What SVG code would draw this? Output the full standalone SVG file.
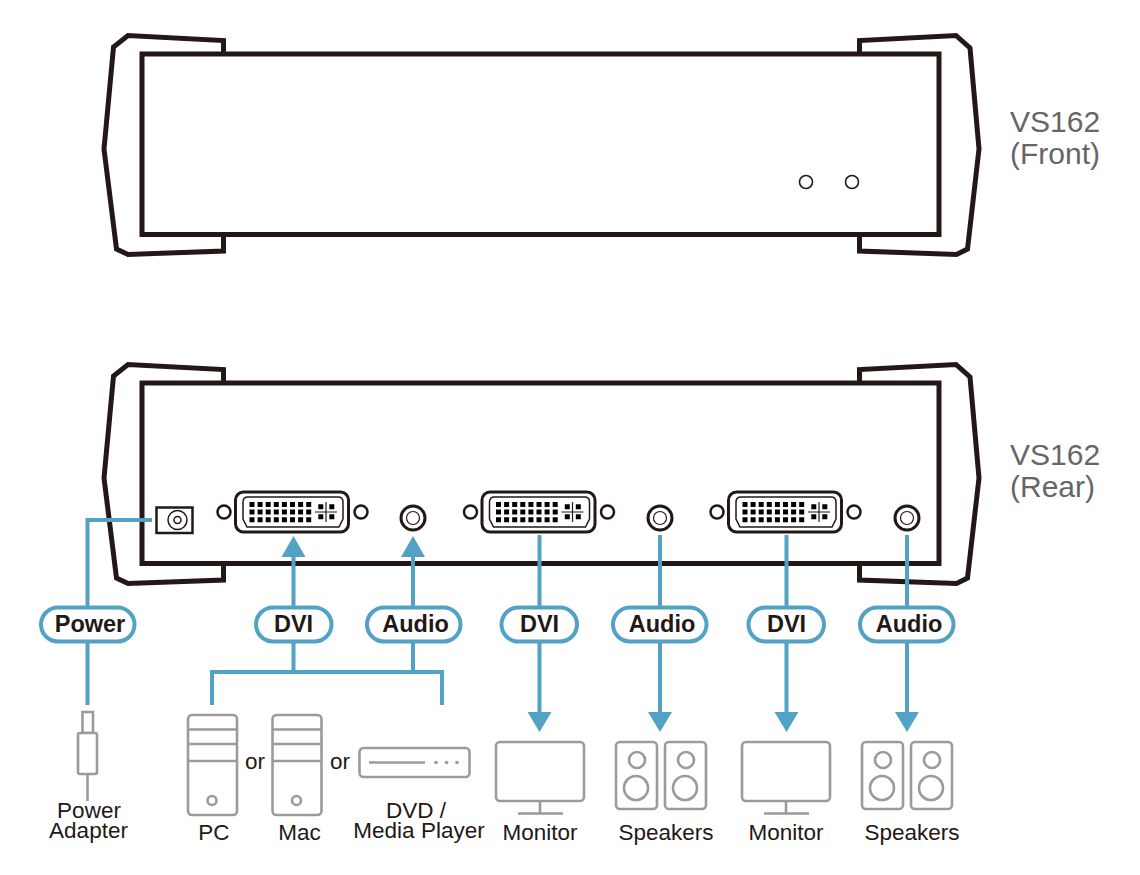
<svg xmlns="http://www.w3.org/2000/svg" width="1140" height="875" viewBox="0 0 1140 875">
<style>
text{font-family:"Liberation Sans",Arial,sans-serif;fill:#231815}
.lbl{font-size:22.5px;text-anchor:middle}
.pilltxt{font-size:23.5px;font-weight:bold;text-anchor:middle}
.model{font-size:30px;fill:#666}
.body{fill:#fff;stroke:#231815;stroke-width:5;stroke-linejoin:miter}
.wing{fill:#fff;stroke:#231815;stroke-width:5;stroke-linejoin:miter}
.dev{fill:#fff;stroke:#9b9b9b;stroke-width:2.6}
.devl{fill:none;stroke:#9b9b9b;stroke-width:2.6}
.wire{fill:none;stroke:#52a2c5;stroke-width:4}
.pill{fill:#fff;stroke:#52a2c5;stroke-width:4}
.head{fill:#52a2c5}
</style>
<defs>
<g id="chassis">
<path class="wing" d="M223.500 68V40.500L128 35.500L113.500 47L104 149L116.500 249L128 254.500L223.500 251V230Z"/>
<path class="wing" d="M859.500 68V40.500L956 35.500L970 48L979 149L967.500 249L956.500 254.500L859.500 251V230Z"/>
<rect class="body" x="142" y="54" width="797" height="180.500"/>
</g>
<g id="dvi">
<rect x="235.500" y="492" width="113" height="40" rx="8" fill="#fff" stroke="#231815" stroke-width="3"/>
<path d="M248 497H338Q343 497 343 502V519L339 527H247L243 519V502Q243 497 248 497Z" fill="#fff" stroke="#231815" stroke-width="1.500"/>
<path fill="#000" d="M249.500 502h5v5h-5zM257.600 502h5v5h-5zM265.700 502h5v5h-5zM273.800 502h5v5h-5zM281.900 502h5v5h-5zM290 502h5v5h-5zM298.100 502h5v5h-5zM306.200 502h5v5h-5zM249.500 509.500h5v5h-5zM257.600 509.500h5v5h-5zM265.700 509.500h5v5h-5zM273.800 509.500h5v5h-5zM281.900 509.500h5v5h-5zM290 509.500h5v5h-5zM298.100 509.500h5v5h-5zM306.200 509.500h5v5h-5zM249.500 517.300h5v5h-5zM257.600 517.300h5v5h-5zM265.700 517.300h5v5h-5zM273.800 517.300h5v5h-5zM281.900 517.300h5v5h-5zM290 517.300h5v5h-5zM298.100 517.300h5v5h-5zM306.200 517.300h5v5h-5zM318.300 504.300h5v5h-5zM329.300 504.300h5v5h-5zM318.300 514.300h5v5h-5zM329.300 514.300h5v5h-5z"/>
<path d="M315 512H337M326 502V522" stroke="#231815" stroke-width="1.200" fill="none"/>
<circle cx="224" cy="512" r="6.500" fill="#fff" stroke="#231815" stroke-width="2.500"/>
<circle cx="361" cy="512" r="6.500" fill="#fff" stroke="#231815" stroke-width="2.500"/>
</g>
<g id="jack">
<circle cx="413" cy="518" r="12" fill="#fff" stroke="#231815" stroke-width="3"/>
<circle cx="413" cy="518" r="6.500" fill="#fff" stroke="#231815" stroke-width="1.200"/>
</g>
<g id="monitor">
<rect class="dev" x="496" y="742" width="88" height="59" rx="4"/>
<path class="devl" d="M540 801V813.500M518 813.500H563"/>
</g>
<g id="speaker">
<rect class="dev" x="616" y="742" width="41" height="67" rx="4"/>
<circle class="dev" cx="637" cy="760" r="8"/>
<circle class="dev" cx="636" cy="788" r="12"/>
</g>
<g id="tower">
<rect class="dev" x="188" y="715" width="49" height="100" rx="4"/>
<path class="devl" d="M188 729.500H237M188 744H237M188 761H237"/>
<circle class="dev" cx="212" cy="800.500" r="4.500"/>
</g>
</defs>

<g id="device-front">
<use href="#chassis"/>
<circle cx="806" cy="182" r="6.500" fill="#fff" stroke="#231815" stroke-width="1.600"/>
<circle cx="852" cy="182" r="6.500" fill="#fff" stroke="#231815" stroke-width="1.600"/>
<text class="model" x="1010" y="132">VS162</text>
<text class="model" x="1010" y="164">(Front)</text>
</g>

<g id="device-rear">
<use href="#chassis" y="329"/>
<text class="model" x="1010" y="465">VS162</text>
<text class="model" x="1010" y="497">(Rear)</text>
<g id="power-port">
<rect x="156.500" y="507.500" width="36" height="25.500" fill="#fff" stroke="#231815" stroke-width="2.500"/>
<circle cx="177.500" cy="520" r="9.500" fill="#fff" stroke="#231815" stroke-width="1.500"/>
<circle cx="177.500" cy="520" r="3.500" fill="#fff" stroke="#231815" stroke-width="1.500"/>
</g>
<use id="dvi-in" href="#dvi"/>
<use id="dvi-out1" href="#dvi" x="246.500"/>
<use id="dvi-out2" href="#dvi" x="493"/>
<use id="audio-in" href="#jack"/>
<use id="audio-out1" href="#jack" x="247"/>
<use id="audio-out2" href="#jack" x="494"/>
</g>

<g id="connectors">
<path class="wire" d="M152 520H87.500V705"/>
<path class="wire" d="M293.500 555V672M413 555V672M212 705V672H442V705"/>
<path class="wire" d="M539.500 535V714M660 535V714M786.500 535V714M907 535V714"/>
<path class="head" d="M293.500 536L305.500 557H281.500ZM413 536L425 557H401Z"/>
<path class="head" d="M539.500 732L527.500 712H551.500ZM660 732L648 712H672ZM786.500 732L774.500 712H798.500ZM907 732L895 712H919Z"/>
</g>

<g id="pill-power"><rect class="pill" x="41" y="607.500" width="93.500" height="34" rx="17"/><text class="pilltxt" x="90" y="632">Power</text></g>
<g id="pill-dvi-in"><rect class="pill" x="256" y="607.500" width="75.500" height="34" rx="17"/><text class="pilltxt" x="293.500" y="632">DVI</text></g>
<g id="pill-audio-in"><rect class="pill" x="367" y="607.500" width="93.500" height="34" rx="17"/><text class="pilltxt" x="415.500" y="632">Audio</text></g>
<g id="pill-dvi-out1"><rect class="pill" x="501.500" y="607.500" width="75.500" height="34" rx="17"/><text class="pilltxt" x="539.500" y="632">DVI</text></g>
<g id="pill-audio-out1"><rect class="pill" x="613" y="607.500" width="93.500" height="34" rx="17"/><text class="pilltxt" x="662" y="632">Audio</text></g>
<g id="pill-dvi-out2"><rect class="pill" x="748.500" y="607.500" width="75.500" height="34" rx="17"/><text class="pilltxt" x="786.500" y="632">DVI</text></g>
<g id="pill-audio-out2"><rect class="pill" x="860" y="607.500" width="93.500" height="34" rx="17"/><text class="pilltxt" x="909" y="632">Audio</text></g>

<g id="power-adapter">
<rect class="dev" x="82.500" y="712" width="10.500" height="21"/>
<rect class="dev" x="78" y="733" width="19" height="41" rx="2"/>
<path class="devl" d="M87.500 774V801"/>
<text class="lbl" x="89" y="818">Power</text>
<text class="lbl" x="88.500" y="838">Adapter</text>
</g>
<g id="pc"><use href="#tower"/><text class="lbl" x="214" y="840">PC</text></g>
<g id="mac"><use href="#tower" x="84.500"/><text class="lbl" x="299.500" y="840">Mac</text></g>
<text class="lbl" x="255" y="769">or</text>
<text class="lbl" x="340" y="769">or</text>
<g id="dvd">
<rect class="dev" x="359.500" y="748" width="110" height="29" rx="4"/>
<path class="devl" d="M369 762.500H425"/>
<circle cx="436" cy="762.500" r="1.800" fill="#9b9b9b"/><circle cx="446.500" cy="762.500" r="1.800" fill="#9b9b9b"/><circle cx="457" cy="762.500" r="1.800" fill="#9b9b9b"/>
<text class="lbl" x="416" y="818">DVD /</text>
<text class="lbl" x="419" y="838">Media Player</text>
</g>
<g id="monitor1"><use href="#monitor"/><text class="lbl" x="540" y="840">Monitor</text></g>
<g id="speakers1"><use href="#speaker"/><use href="#speaker" x="49"/><text class="lbl" x="666" y="840">Speakers</text></g>
<g id="monitor2"><use href="#monitor" x="246"/><text class="lbl" x="786" y="840">Monitor</text></g>
<g id="speakers2"><use href="#speaker" x="246"/><use href="#speaker" x="295"/><text class="lbl" x="912" y="840">Speakers</text></g>
</svg>
